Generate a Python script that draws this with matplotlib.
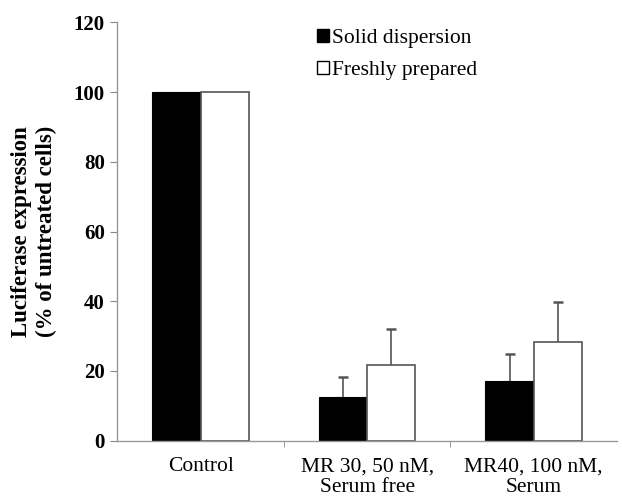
import numpy as np
import matplotlib.pyplot as plt
from matplotlib.patches import Patch

plt.rcParams['font.family'] = ['Liberation Serif', 'DejaVu Serif']

# Data
categories = ["Control", "MR 30, 50 nM,\nSerum free", "MR40, 100 nM,\nSerum"]
solid_vals = [100, 12.4, 17.1]
solid_err = [0, 5.8, 7.7]
fresh_vals = [100, 21.6, 28.2]
fresh_err = [0, 10.5, 11.7]
series_names = ["Solid dispersion", "Freshly prepared"]

fig = plt.figure(figsize=(6.22, 5.01), dpi=100)
ax = fig.add_axes([0.1886, 0.1204, 0.8034, 0.835])

x = np.arange(len(categories))
w = 0.29
edge = "#555555"
ax.bar(x - w/2, solid_vals, w, color="black", edgecolor="black", linewidth=0.8,
       zorder=2)
ax.bar(x + w/2, fresh_vals, w, color="white", edgecolor=edge, linewidth=1.2,
       zorder=2)

# upper error bars only (none on control)
for offs, vals, errs in [(-w/2, solid_vals, solid_err), (w/2, fresh_vals, fresh_err)]:
    for i in range(len(vals)):
        if errs[i] <= 0:
            continue
        eb = ax.errorbar(x[i] + offs, vals[i], yerr=[[0], [errs[i]]], fmt="none",
                         ecolor=edge, elinewidth=1.2, capsize=3.5, capthick=1.8,
                         zorder=3)
        eb[1][0].set_visible(False)

ax.set_xlim(-0.5, 2.5)
ax.set_ylim(0, 120)
ax.set_yticks(np.arange(0, 121, 20))
ax.set_xticks(x)
ax.set_xticklabels(categories, fontsize=15.5, linespacing=1.15)
ax.set_xticks([0.5, 1.5], minor=True)
ax.tick_params(axis="x", which="major", length=0, pad=12)
ax.tick_params(axis="x", which="minor", length=4, color="#888888")
ax.tick_params(axis="y", length=5, color="#888888", labelsize=15, pad=4)
for lbl in ax.get_yticklabels():
    lbl.set_fontweight("bold")

for s in ["top", "right"]:
    ax.spines[s].set_visible(False)
for s in ["left", "bottom"]:
    ax.spines[s].set_color("#999999")
    ax.spines[s].set_linewidth(1.0)

ax.set_ylabel("Luciferase expression\n(% of untreated cells)", fontsize=16.5,
              fontweight="bold", labelpad=12, linespacing=1.25)

handles = [Patch(facecolor="black", edgecolor="black"),
           Patch(facecolor="white", edgecolor="black")]
ax.legend(handles, series_names, loc="upper left", bbox_to_anchor=(0.40, 0.985),
          frameon=False, fontsize=15.5, handlelength=0.55, handleheight=0.55,
          handletextpad=0.15, labelspacing=0.6, borderpad=0, borderaxespad=0)

fig.savefig("out.png", dpi=100)
